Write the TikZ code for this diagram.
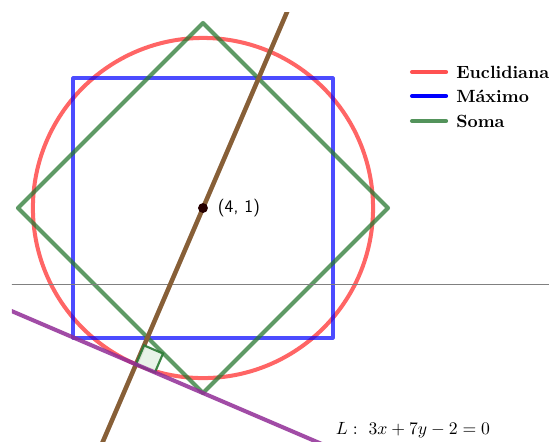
\documentclass[tikz,border=0pt]{standalone}
\usepackage{amsmath}
\usetikzlibrary{calc}

\definecolor{euclred}{RGB}{255,50,50}
\definecolor{maxblue}{RGB}{0,0,255}
\definecolor{somagreen}{RGB}{40,120,50}
\definecolor{perpbrown}{RGB}{135,95,55}
\definecolor{linepurple}{RGB}{145,45,150}
\definecolor{markfill}{RGB}{230,242,230}

\tikzset{
  normline/.style={line width=1.5pt, line join=round, opacity=0.75},
  legline/.style={line width=1.5pt, line cap=round},
  smalltext/.style={anchor=west, inner sep=0pt, scale=0.66, transform shape},
  legtext/.style={smalltext, font=\bfseries}
}

\begin{document}
\begin{tikzpicture}[>=latex]
  \useasboundingbox (1.336,-2.058) rectangle (8.541,3.730);
  % centre and foot of the perpendicular on L
  \coordinate (c) at (4,1);
  \coordinate (f) at (3.1207,-1.0517);
  \begin{scope}
    \clip (1.493,-2.058) rectangle (8.541,3.572);
    % Euclidean ball
    \draw[normline, euclred] (c) circle (2.232);
    % max ball
    \draw[normline, maxblue, opacity=0.7] ($(c)+(-1.7,-1.7)$) rectangle ($(c)+(1.7,1.7)$);
    % sum ball
    \draw[normline, somagreen] ($(c)+(-2.4286,0)$) -- ($(c)+(0,2.4286)$)
      -- ($(c)+(2.4286,0)$) -- ($(c)+(0,-2.4286)$) -- cycle;
    % x axis
    \coordinate (ax1) at (1.3,0);
    \coordinate (ax2) at (8.6,0);
    \draw[gray, line width=0.5pt] (ax1) -- (ax2);
    % perpendicular through the centre
    \coordinate (p1) at ($(c)+(-1.5,-3.5)$);
    \coordinate (p2) at ($(c)+(1.2,2.8)$);
    \draw[perpbrown, line width=1.7pt] (p1) -- (p2);
    % right angle mark
    \draw[somagreen, fill=markfill, line width=0.8pt, opacity=0.9] (f)
      -- ++(0.2482,-0.1064) -- ++(0.1064,0.2482) -- ++(-0.2482,0.1064) -- cycle;
    % line L
    \coordinate (l1) at (1.3,-0.2714);
    \coordinate (l2) at (6.2,-2.3714);
    \draw[linepurple, line width=1.5pt, opacity=0.85] (l1) -- (l2);
  \end{scope}
  % centre point
  \fill[black!85!red] (c) circle (0.065);
  \node[smalltext, font=\sffamily] (cl) at (4.19,1) {(4, 1)};
  \node[smalltext] (lab) at (5.74,-1.913) {$L:\ 3x+7y-2=0$};
  % legend
  \coordinate (e1) at (6.743,2.785); \coordinate (e2) at (7.19,2.785);
  \coordinate (m1) at (6.743,2.47);  \coordinate (m2) at (7.19,2.47);
  \coordinate (s1) at (6.743,2.142); \coordinate (s2) at (7.19,2.142);
  \draw[legline, euclred!85] (e1) -- (e2);
  \draw[legline, maxblue] (m1) -- (m2);
  \draw[legline, somagreen!80] (s1) -- (s2);
  \node[legtext] (te) at (7.32,2.785) {Euclidiana};
  \node[legtext] (tm) at (7.32,2.47) {Máximo};
  \node[legtext] (ts) at (7.32,2.142) {Soma};
\end{tikzpicture}
\end{document}
